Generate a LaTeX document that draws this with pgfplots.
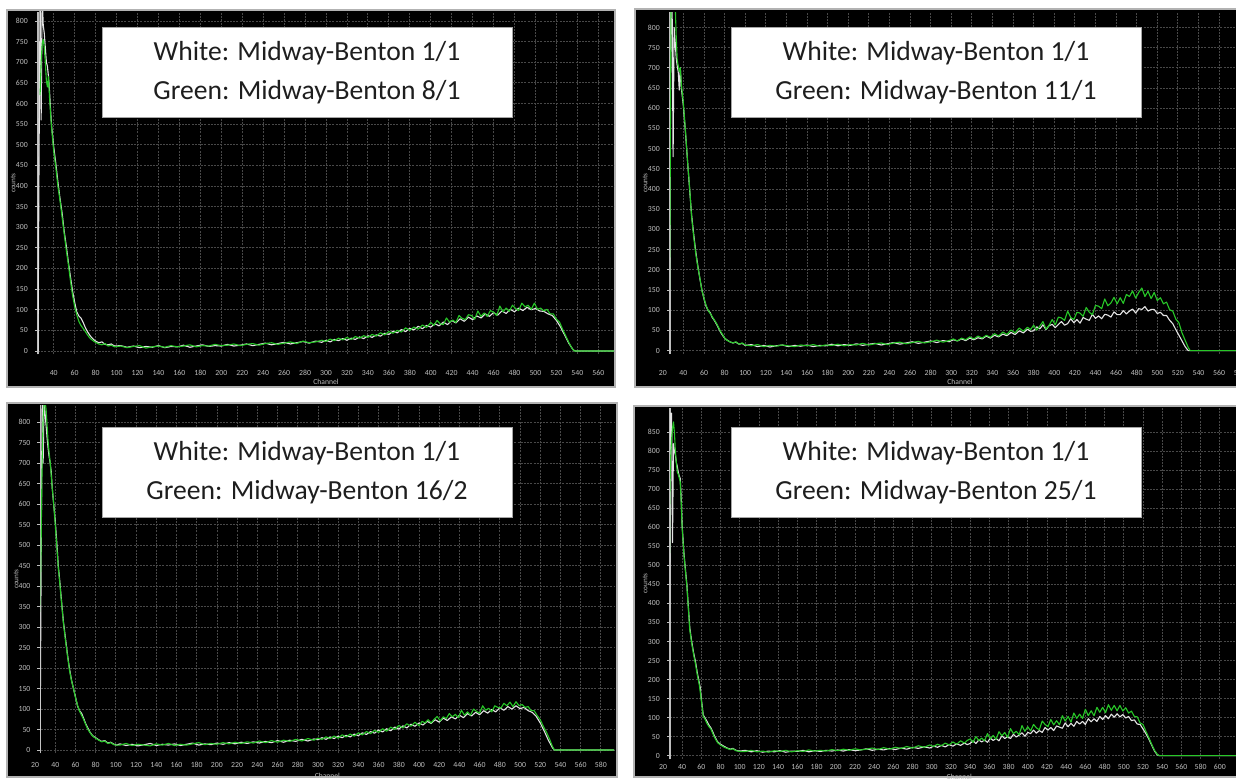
\documentclass[border=0pt]{standalone}
\usepackage{fontspec}
\setmainfont{Carlito}
\usepackage{pgfplots}
\pgfplotsset{compat=1.18}
\definecolor{wline}{RGB}{228,228,228}
\definecolor{gline}{RGB}{40,200,40}
\definecolor{gridc}{RGB}{72,72,72}
\definecolor{tickc}{RGB}{190,190,190}
\definecolor{txt}{RGB}{30,30,30}
\pgfplotsset{spec/.style={
  scale only axis,
  axis x line*=bottom, axis y line*=left,
  axis line style={-},
  x axis line style={draw=none},
  y axis line style={draw=tickc, line width=0.6pt},
  xtick style={draw=none},
  ytick style={draw=tickc, line width=0.4pt},
  major tick length=1.6pt,
  tick align=outside,
  xmajorgrids, ymajorgrids,
  major grid style={draw=gridc, line width=0.4pt, dash pattern=on 1pt off 0.6pt},
  ticklabel style={font=\fontsize{3.9}{4}\selectfont, text=tickc},
  /pgf/number format/assume math mode=true,
  xlabel=Channel, ylabel=counts,
  xlabel style={at={(axis description cs:0.5,0)}, anchor=north, font=\fontsize{3.8}{4}\selectfont, text=tickc},
  ylabel style={at={(axis description cs:-0.043,0.5)}, anchor=center, font=\fontsize{3.6}{4}\selectfont, text=tickc},
  ymin=-8,
  every axis plot/.append style={line width=0.55pt, line join=round},
}}
\begin{document}
\begin{tikzpicture}
\fill[white] (0pt,0pt) rectangle (618pt,389.5pt);
\path[use as bounding box] (0pt,0pt) rectangle (618pt,389.5pt);
\filldraw[fill=black, draw=gray!60, line width=0.8pt] (3.5pt,196pt) rectangle (307.5pt,384.5pt);
\filldraw[fill=black, draw=gray!60, line width=0.8pt] (317.5pt,196pt) rectangle (625pt,385pt);
\filldraw[fill=black, draw=gray!60, line width=0.8pt] (3.5pt,1pt) rectangle (308.5pt,188pt);
\filldraw[fill=black, draw=gray!60, line width=0.8pt] (317pt,1pt) rectangle (625pt,186.5pt);

% ---------- Panel 1 ----------
\begin{axis}[spec, at={(19pt,212.35pt)}, anchor=south west, width=288pt, height=171.2pt,
  xmin=25, xmax=575, ymax=822, xtick={40,60,...,560}, ytick={0,50,...,800},
  xticklabel style={yshift=-3pt}, xlabel style={yshift=-9pt}]
\addplot[wline] coordinates {(25,0)(26,470)(27,860)(28,560)(29,860)(30,790)(31,770)(32,735)(33,700)(34,690)(35,665)(36,630)(37,585)(38,545)(40,495)(42,455)(44,410)(46,370)(48,335)(50,290)(52,255)(54,215)(56,180)(58,145)(60,118)(62,95)(64,85)(66,80)(68,70)(70,58)(72,48)(74,40)(76,33)(78,28)(80,24)(83,20)(86,22)(89,16)(92,15)(95,17)(98,12)
(104,13)(110,9)(116,12)(122,8)(128,11)(134,9)(140,13)(146,8)(152,11)(158,10)(164,14)(170,9)(176,12)(182,15)(188,11)(194,13)(200,12)(206,16)(212,12)(218,14)(224,17)(230,13)(236,16)(242,19)(248,15)(254,18)(260,21)(266,17)(272,20)(278,23)(284,19)(290,24)(296,21)
(300,26)(304,22)(308,28)(312,25)(316,30)(320,26)(324,31)(328,28)(332,34)(336,30)(340,37)(344,33)(348,39)(352,36)(356,43)(360,40)(364,48)(368,44)(372,52)(376,47)(380,55)(384,51)(388,60)(392,54)(396,62)(400,58)(404,66)(408,61)(412,70)(416,64)(420,74)(424,68)(428,78)(432,72)(436,82)(440,76)(444,85)(448,80)(452,90)(456,84)(460,93)(464,87)(468,97)(472,91)(476,101)(480,95)(484,104)(488,98)(492,106)(496,100)(500,103)(504,97)(508,96)(512,90)(516,86)(520,74)(524,58)(528,38)(532,18)(536,3)(538,0)(575,0)};
\addplot[gline] coordinates {(27,620)(28,700)(29,745)(30,755)(31,735)(32,700)(33,655)(34,640)(35,665)(36,615)(37,575)(38,540)(40,485)(42,445)(44,400)(46,365)(48,325)(50,285)(52,245)(54,210)(56,170)(58,135)(60,108)(62,88)(64,72)(66,62)(68,55)(70,48)(72,40)(74,33)(76,28)(78,24)(80,21)(83,17)(86,15)(89,18)(92,12)(95,14)(98,10)
(104,12)(110,8)(116,11)(122,13)(128,7)(134,10)(140,12)(146,9)(152,13)(158,10)(164,12)(170,15)(176,10)(182,13)(188,12)(194,16)(200,13)(206,14)(212,17)(218,13)(224,16)(230,18)(236,14)(242,18)(248,20)(254,16)(260,19)(266,22)(272,18)(278,24)(284,20)(290,22)(296,26)
(300,23)(304,29)(308,25)(312,31)(316,27)(320,33)(324,28)(328,35)(332,31)(336,37)(340,33)(344,40)(348,36)(352,44)(356,39)(360,47)(364,43)(368,50)(372,46)(376,56)(380,50)(384,58)(388,53)(392,63)(396,57)
(400,69)(403,62)(406,74)(409,66)(412,64)(415,80)(418,70)(421,75)(424,69)(427,86)(430,79)(433,76)(436,88)(439,86)(442,77)(445,97)(448,84)(451,92)(454,84)(457,98)(460,94)(463,86)(466,109)(469,95)(472,104)(475,96)(478,111)(481,103)(484,98)(487,116)(490,107)(493,111)(496,101)(499,116)(502,101)(505,104)(508,97)(511,101)(514,90)(517,90)(520,77)(523,70)(526,52)(529,36)(532,20)(535,6)(537,0)(575,0)};
\end{axis}

% ---------- Panel 2 ----------
\begin{axis}[spec, at={(335pt,212.55pt)}, anchor=south west, width=290pt, height=170.9pt,
  xmin=27, xmax=590, ymax=838, xtick={40,60,...,580}, ytick={0,50,...,800},
  xticklabel style={yshift=-3pt}, xlabel style={yshift=-9pt},
  extra x ticks={27}, extra x tick labels={20},
  extra x tick style={grid=none, xticklabel style={xshift=-3.6pt}}]
\addplot[wline] coordinates {(26,0)(27,475)(28,870)(29,870)(30,480)(31,800)(32,765)(33,725)(34,705)(35,690)(36,645)(37,700)(38,650)(40,605)(42,540)(44,470)(46,400)(48,335)(50,288)(52,245)(54,210)(56,178)(58,150)(60,128)(62,110)(64,99)(66,94)(68,82)(70,75)(72,66)(74,56)(76,46)(78,38)(80,31)(82,27)(85,22)(88,19)(91,21)(94,16)(97,18)(100,13)
(106,15)(112,10)(118,13)(124,9)(130,12)(136,14)(142,10)(148,13)(154,11)(160,14)(166,10)(172,13)(178,12)(184,16)(190,12)(196,15)(202,13)(208,17)(214,13)(220,16)(226,18)(232,14)(238,17)(244,20)(250,16)(256,19)(262,22)(268,18)(274,21)(280,24)(286,20)(292,25)(298,22)
(302,27)(306,24)(310,29)(314,25)(318,31)(322,27)(326,32)(330,29)(334,36)(338,31)(342,38)(346,34)(350,41)(354,37)(358,45)(362,40)(366,49)(370,44)(374,53)(377,48)
(380,49)(383,59)(386,54)(389,64)(392,52)(395,62)(398,65)(401,57)(404,65)(407,72)(410,63)(413,67)(416,79)(419,69)(422,77)(425,68)(428,82)(431,78)(434,75)(437,90)(440,80)(443,86)(446,79)(449,90)(452,88)(455,83)(458,96)(461,89)(464,89)(467,99)(470,91)(473,98)(476,103)(479,93)(482,104)(485,102)(488,109)(491,98)(494,102)(497,102)(500,92)(503,95)(506,87)(509,87)(512,75)(515,67)(518,52)(521,38)(524,24)(527,10)(530,0)(590,0)};
\addplot[gline] coordinates {(26,0)(27,330)(28,870)(30,880)(32,860)(33,780)(34,720)(35,705)(36,690)(37,700)(38,660)(40,612)(42,545)(44,470)(46,405)(48,330)(50,282)(52,240)(54,207)(56,180)(58,148)(60,130)(62,112)(64,100)(66,92)(68,84)(70,76)(72,68)(74,58)(76,48)(78,40)(80,31)(82,26)(85,22)(88,19)(91,22)(94,16)(97,19)(100,14)
(106,12)(112,15)(118,10)(124,13)(130,11)(136,14)(142,12)(148,10)(154,14)(160,12)(166,15)(172,11)(178,14)(184,13)(190,16)(196,12)(202,15)(208,14)(214,18)(220,14)(226,17)(232,19)(238,15)(244,19)(250,21)(256,17)(262,20)(268,23)(274,19)(280,22)(286,26)(292,21)(298,25)
(302,29)(306,24)(310,31)(314,27)(318,34)(322,29)(326,36)(330,31)(334,38)(338,33)(342,42)(346,36)(350,46)(354,40)(358,51)(362,44)(366,56)(370,48)(374,58)(377,52)
(380,63)(383,51)(386,61)(389,72)(392,53)(395,63)(398,77)(401,64)(404,83)(407,81)(410,75)(413,98)(416,82)(419,77)(422,95)(425,93)(428,85)(431,107)(434,95)(437,89)(440,112)(443,110)(446,104)(449,128)(452,111)(455,118)(458,132)(461,116)(464,131)(467,117)(470,139)(473,134)(476,148)(479,130)(482,144)(485,155)(488,134)(491,147)(494,129)(497,144)(500,124)(503,131)(506,116)(509,120)(512,101)(515,98)(518,78)(521,69)(524,44)(527,26)(530,8)(532,0)(590,0)};
\end{axis}

% ---------- Panel 3 ----------
\begin{axis}[spec, at={(20.35pt,12.85pt)}, anchor=south west, width=286.65pt, height=174.1pt,
  xmin=25.6, xmax=593, ymax=842, xtick={40,60,...,580}, ytick={0,50,...,800},
  xticklabel style={yshift=0.5pt}, xlabel style={yshift=-6.3pt},
  extra x ticks={25.6}, extra x tick labels={20},
  extra x tick style={grid=none, xticklabel style={xshift=-2.85pt}}]
\addplot[wline] coordinates {(25,0)(26,444)(27,860)(28,700)(29,860)(30,820)(31,790)(32,760)(33,735)(34,715)(35,700)(36,680)(37,640)(38,612)(40,560)(42,490)(43,450)(44,425)(46,370)(48,315)(50,275)(52,235)(54,200)(56,172)(58,150)(60,130)(62,108)(64,96)(66,90)(68,78)(70,65)(72,55)(74,45)(76,38)(78,33)(80,30)(83,25)(86,21)(89,23)(92,17)(95,19)(98,14)(101,12)
(104,15)(110,11)(116,14)(122,10)(128,13)(134,16)(140,11)(146,14)(152,12)(158,15)(164,11)(170,14)(176,17)(182,12)(188,15)(194,13)(200,17)(206,14)(212,18)(218,15)(224,19)(230,16)(236,20)(242,17)(248,21)(254,18)(260,23)(266,19)(272,24)(278,21)(284,26)(290,22)(296,27)
(300,25)(304,30)(308,26)(312,32)(316,28)(320,34)(324,30)(328,36)(332,32)(336,39)(340,35)(344,42)(348,38)(352,45)(356,41)(360,49)(364,44)(368,52)(372,47)(376,56)(380,51)(384,59)(388,54)(392,63)(396,58)(400,66)(404,61)(408,70)(412,65)(416,74)(420,68)(424,78)(428,72)(432,81)(436,76)(440,85)(444,79)(448,89)(452,83)(456,92)(460,86)(464,96)(468,90)(472,99)(476,93)(480,103)(484,97)(488,106)(492,100)(496,108)(500,101)(504,104)(508,96)(512,92)(516,82)(520,66)(524,46)(528,24)(532,6)(534,0)(593,0)};
\addplot[gline] coordinates {(25,337)(26,500)(27,700)(28,810)(29,845)(30,850)(31,830)(32,790)(33,750)(34,725)(35,702)(36,670)(37,640)(38,615)(40,550)(42,480)(43,444)(44,420)(46,365)(48,312)(50,270)(52,232)(54,196)(56,170)(58,151)(60,128)(62,110)(64,95)(66,85)(68,75)(70,63)(72,52)(74,44)(76,37)(78,32)(80,29)(83,24)(86,20)(89,22)(92,16)(95,18)(98,13)(101,12)
(104,12)(110,16)(116,11)(122,14)(128,12)(134,10)(140,15)(146,12)(152,16)(158,11)(164,14)(170,12)(176,15)(182,18)(188,13)(194,16)(200,14)(206,18)(212,15)(218,19)(224,16)(230,20)(236,17)(242,22)(248,18)(254,23)(260,19)(266,24)(272,21)(278,26)(284,22)(290,28)(296,24)
(300,29)(304,26)(308,32)(312,28)(316,34)(320,29)(324,37)(328,32)(332,39)(336,34)(340,42)(344,37)(348,45)(352,40)(356,48)(360,43)(364,52)(368,46)(372,56)(376,50)(380,60)(384,54)(388,64)(392,58)(396,68)
(400,59)(403,70)(406,66)(409,74)(412,66)(415,75)(418,82)(421,71)(424,81)(427,77)(430,89)(433,81)(436,87)(439,79)(442,97)(445,85)(448,93)(451,85)(454,100)(457,94)(460,90)(463,108)(466,97)(469,102)(472,93)(475,108)(478,104)(481,102)(484,114)(487,108)(490,117)(493,106)(496,118)(499,108)(502,111)(505,104)(508,106)(511,96)(514,96)(517,84)(520,74)(523,58)(526,44)(529,28)(532,9)(534,0)(593,0)};
\end{axis}

% ---------- Panel 4 ----------
\begin{axis}[spec, at={(335pt,10.15pt)}, anchor=south west, width=289.3pt, height=175.4pt,
  xmin=27.4, xmax=630, ymax=914, xtick={40,60,...,600}, ytick={0,50,...,850},
  xticklabel style={yshift=2.2pt}, xlabel style={yshift=-4.2pt},
  extra x ticks={27.4}, extra x tick labels={20},
  extra x tick style={grid=none, xticklabel style={xshift=-3.5pt}}]
\addplot[wline] coordinates {(26,0)(27,475)(28,900)(29,900)(30,560)(31,820)(32,800)(33,790)(34,770)(35,760)(36,745)(37,735)(38,729)(39,680)(40,606)(42,530)(44,475)(45,449)(46,410)(48,336)(50,300)(52,270)(54,246)(56,215)(58,190)(59,178)(60,150)(62,107)(64,98)(66,90)(68,80)(70,73)(72,62)(74,50)(77,36)(80,30)(84,24)(87,20)(90,17)(93,19)(96,14)(100,12)
(106,14)(112,10)(118,13)(124,9)(130,12)(136,10)(142,13)(148,9)(154,12)(160,11)(166,14)(172,10)(178,13)(184,11)(190,14)(196,12)(202,15)(208,12)(214,16)(220,13)(226,15)(232,18)(238,14)(244,17)(250,15)(256,19)(262,16)(268,20)(274,17)(280,22)(286,19)(292,23)(298,20)
(302,25)(306,22)(310,27)(314,23)(318,29)(322,25)(326,31)(330,27)(334,33)(337,29)
(340,32)(343,39)(346,32)(349,41)(352,36)(355,41)(358,35)(361,46)(364,40)(367,45)(370,39)(373,52)(376,45)(379,50)(382,45)(385,56)(388,49)(391,54)(394,60)(397,51)(400,61)(403,58)(406,67)(409,59)(412,66)(415,61)(418,74)(421,67)(424,74)(427,66)(430,78)(433,75)(436,72)(439,86)(442,76)(445,85)(448,77)(451,90)(454,83)(457,90)(460,82)(463,97)(466,89)(469,97)(472,90)(475,103)(478,95)(481,105)(484,97)(487,109)(490,101)(493,110)(496,102)(499,108)(502,99)(505,103)(508,92)(511,94)(514,83)(517,82)(520,70)(523,58)(526,44)(529,28)(532,12)(535,2)(537,0)(630,0)};
\addplot[gline] coordinates {(26,0)(27,651)(28,780)(29,830)(30,860)(31,877)(32,850)(33,800)(34,770)(35,745)(36,740)(37,730)(38,720)(39,670)(40,600)(42,525)(44,470)(45,445)(46,405)(48,330)(50,295)(52,265)(54,240)(56,210)(58,185)(60,145)(62,104)(64,95)(66,84)(68,76)(70,70)(72,58)(74,47)(77,34)(80,28)(84,22)(87,19)(90,16)(93,18)(96,13)(100,11)
(106,11)(112,14)(118,10)(124,12)(130,9)(136,13)(142,11)(148,14)(154,10)(160,13)(166,11)(172,15)(178,12)(184,14)(190,12)(196,16)(202,13)(208,17)(214,14)(220,18)(226,15)(232,17)(238,20)(244,16)(250,21)(256,17)(262,22)(268,19)(274,24)(280,20)(286,26)(292,22)(298,28)
(302,24)(306,30)(310,26)(314,33)(318,28)(322,36)(326,30)(330,39)(334,33)(337,40)
(340,44)(343,35)(346,50)(349,40)(352,46)(355,39)(358,58)(361,44)(364,53)(367,43)(370,63)(373,52)(376,61)(379,48)(382,71)(385,58)(388,64)(391,55)(394,79)(397,64)(400,76)(403,65)(406,82)(409,73)(412,68)(415,91)(418,82)(421,76)(424,95)(427,81)(430,92)(433,81)(436,105)(439,91)(442,103)(445,88)(448,112)(451,98)(454,109)(457,98)(460,122)(463,105)(466,118)(469,105)(472,127)(475,114)(478,127)(481,113)(484,134)(487,119)(490,132)(493,118)(496,132)(499,117)(502,126)(505,112)(508,117)(511,103)(514,102)(517,86)(520,82)(523,64)(526,48)(529,30)(532,14)(535,3)(537,0)(630,0)};
\end{axis}

% ---------- Label boxes ----------
\tikzset{lbl/.style={draw=gray!70, line width=0.5pt, fill=white, text=txt, minimum width=205pt, minimum height=45pt, inner sep=0pt, align=center, font=\fontsize{13.8}{19.4}\selectfont}}
\node[lbl] at (153.5pt,353pt) {White: Midway-Benton 1/1\\Green: Midway-Benton 8/1};
\node[lbl] at (468pt,353pt) {White: Midway-Benton 1/1\\Green: Midway-Benton 11/1};
\node[lbl] at (153.5pt,153.25pt) {White: Midway-Benton 1/1\\Green: Midway-Benton 16/2};
\node[lbl] at (468pt,153.25pt) {White: Midway-Benton 1/1\\Green: Midway-Benton 25/1};
\end{tikzpicture}
\end{document}
